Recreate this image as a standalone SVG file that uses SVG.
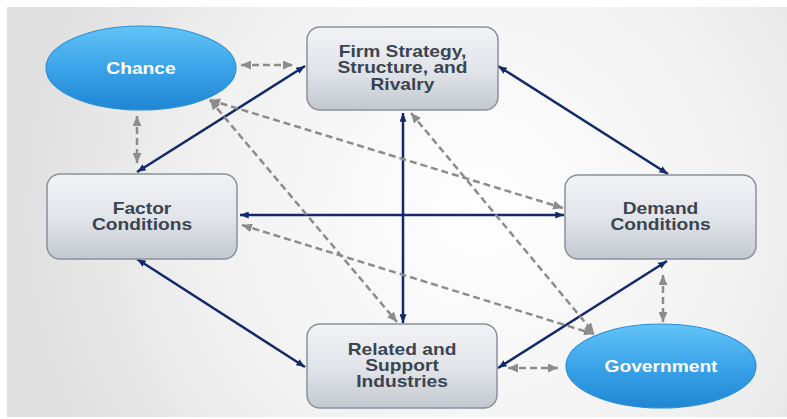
<svg xmlns="http://www.w3.org/2000/svg" width="787" height="419" viewBox="0 0 787 419">
<defs>
<radialGradient id="bg" cx="480" cy="210" r="460" gradientUnits="userSpaceOnUse">
<stop offset="0" stop-color="#ffffff"/>
<stop offset="0.6" stop-color="#f1f1f1"/>
<stop offset="1" stop-color="#e0e0e0"/>
</radialGradient>
<linearGradient id="boxg" x1="0" y1="0" x2="0" y2="1">
<stop offset="0" stop-color="#f2f3f6"/>
<stop offset="0.55" stop-color="#e0e3e8"/>
<stop offset="1" stop-color="#c3c8d0"/>
</linearGradient>
<linearGradient id="ellg" x1="0" y1="0" x2="0" y2="1">
<stop offset="0" stop-color="#62c4f6"/>
<stop offset="0.5" stop-color="#3ba3e9"/>
<stop offset="1" stop-color="#1f86d3"/>
</linearGradient>
<marker id="nv" viewBox="0 0 10 8" refX="10" refY="4" markerWidth="9" markerHeight="7" markerUnits="userSpaceOnUse" orient="auto-start-reverse">
<path d="M0,0 L10,4 L0,8 z" fill="#132a6a"/>
</marker>
<marker id="gy" viewBox="0 0 10 9" refX="10" refY="4.5" markerWidth="10" markerHeight="9" markerUnits="userSpaceOnUse" orient="auto-start-reverse">
<path d="M0,0 L10,4.5 L0,9 z" fill="#8c8c8c"/>
</marker>
</defs>
<style>
.box{fill:url(#boxg);stroke:#8b9199;stroke-width:1.5}
.ell{fill:url(#ellg);stroke:#2a8fd8;stroke-width:1.2}
.t{font-family:"Liberation Sans",Arial,sans-serif;font-weight:bold;font-size:16px;fill:#3a4552;text-anchor:middle}
.w{fill:#ffffff}
.nv{stroke:#132a6a;stroke-width:2.5;fill:none;marker-start:url(#nv);marker-end:url(#nv)}
.gy{stroke:#8c8c8c;stroke-width:2.5;fill:none;stroke-dasharray:7 4;marker-start:url(#gy);marker-end:url(#gy)}
</style>
<rect x="0" y="0" width="787" height="419" fill="#ffffff"/>
<rect x="7" y="7" width="780" height="410" fill="url(#bg)"/>

<g id="connectors">
<line class="nv" x1="137" y1="172" x2="305" y2="66"/>
<line class="nv" x1="498" y1="66" x2="668" y2="174"/>
<line class="nv" x1="240" y1="215" x2="564" y2="215"/>
<line class="nv" x1="403" y1="113" x2="403" y2="323"/>
<line class="nv" x1="137" y1="259" x2="305" y2="367"/>
<line class="nv" x1="667" y1="261" x2="498" y2="368"/>
<line class="gy" x1="241" y1="65" x2="293" y2="65"/>
<line class="gy" x1="137" y1="116" x2="137" y2="163"/>
<line class="gy" x1="210" y1="100" x2="563" y2="208"/>
<line class="gy" x1="210" y1="100" x2="397" y2="322"/>
<line class="gy" x1="411" y1="113" x2="594" y2="333"/>
<line class="gy" x1="242" y1="225" x2="594" y2="334"/>
<line class="gy" x1="508" y1="368" x2="558" y2="368"/>
<line class="gy" x1="663" y1="275" x2="663" y2="322"/>
</g>

<g id="chance">
<ellipse class="ell" cx="141" cy="68" rx="95" ry="42"/>
<text class="t w" transform="matrix(1.2,0,0,1,141,0)" x="0" y="74">Chance</text>
</g>
<g id="firm">
<rect class="box" x="307" y="27" width="191" height="83" rx="13"/>
<text class="t" transform="matrix(1.2,0,0,1,402.5,0)" x="0" y="57">Firm Strategy,</text>
<text class="t" transform="matrix(1.2,0,0,1,402.5,0)" x="0" y="73">Structure, and</text>
<text class="t" transform="matrix(1.2,0,0,1,402.5,0)" x="0" y="90">Rivalry</text>
</g>
<g id="factor">
<rect class="box" x="47" y="174" width="190" height="85" rx="13"/>
<text class="t" transform="matrix(1.2,0,0,1,142,0)" x="0" y="214">Factor</text>
<text class="t" transform="matrix(1.2,0,0,1,142,0)" x="0" y="230">Conditions</text>
</g>
<g id="demand">
<rect class="box" x="565" y="175" width="191" height="84" rx="13"/>
<text class="t" transform="matrix(1.2,0,0,1,660.5,0)" x="0" y="214">Demand</text>
<text class="t" transform="matrix(1.2,0,0,1,660.5,0)" x="0" y="230">Conditions</text>
</g>
<g id="related">
<rect class="box" x="307" y="324" width="190" height="84" rx="13"/>
<text class="t" transform="matrix(1.2,0,0,1,402,0)" x="0" y="355">Related and</text>
<text class="t" transform="matrix(1.2,0,0,1,402,0)" x="0" y="371">Support</text>
<text class="t" transform="matrix(1.2,0,0,1,402,0)" x="0" y="387">Industries</text>
</g>
<g id="government">
<ellipse class="ell" cx="661" cy="366" rx="95" ry="42"/>
<text class="t w" transform="matrix(1.2,0,0,1,661,0)" x="0" y="372">Government</text>
</g>
</svg>
